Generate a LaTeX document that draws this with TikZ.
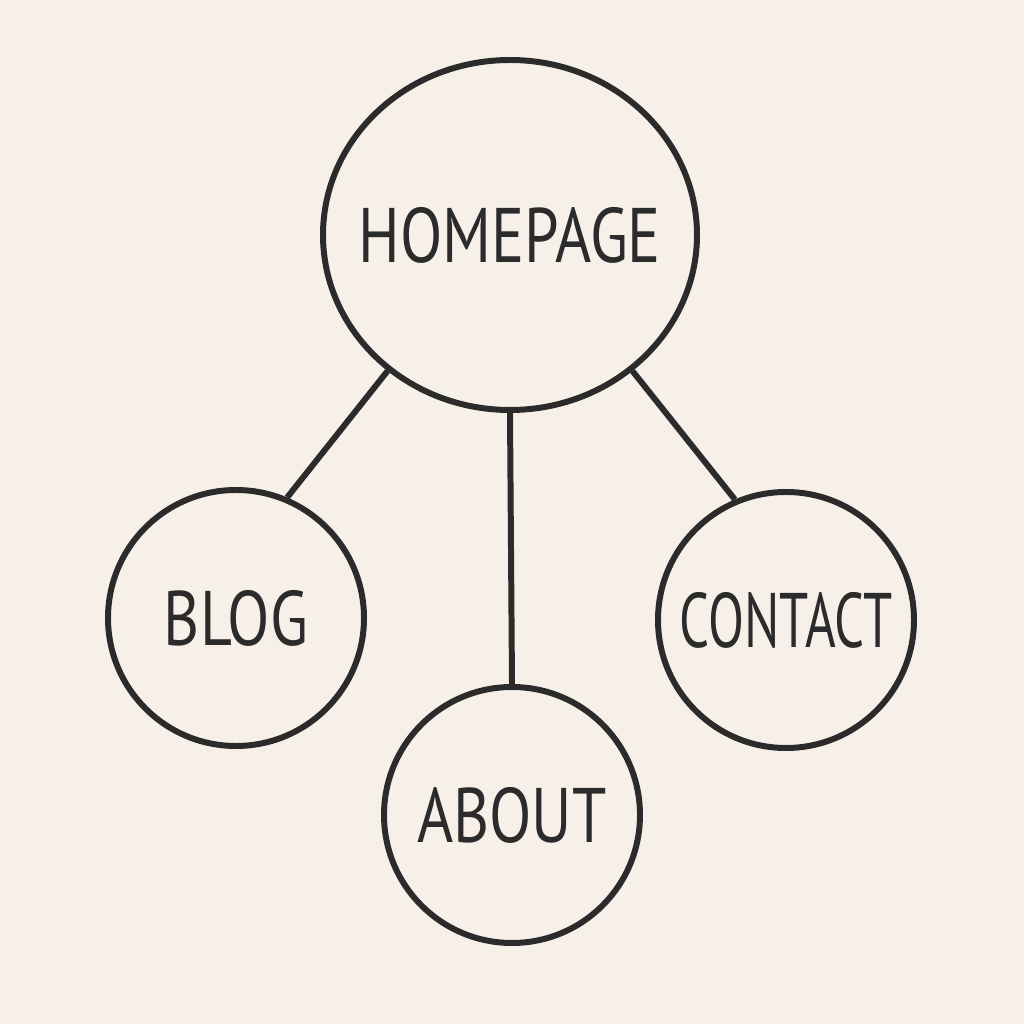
\documentclass[tikz,border=0pt]{standalone}
\usepackage{fontspec}
\usetikzlibrary{shapes.geometric}
\newfontfamily\handfont[FakeStretch=0.8]{PT Sans}
\newfontfamily\narrowhand[FakeStretch=0.68]{PT Sans}
\definecolor{paper}{HTML}{F6F0E8}
\definecolor{ink}{HTML}{2B2B2B}
\begin{document}
\begin{tikzpicture}
    [page/.style={shape=circle,draw=ink,line width=1.7pt,text=ink,
      font=\handfont\fontsize{22}{24}\selectfont,minimum size=2.56cm,inner sep=0pt},
     link/.style={draw=ink,line width=1.7pt}]
    \fill [paper] (0,0) rectangle (10.24,10.24);
    \node [page,shape=ellipse,minimum width=3.74cm,minimum height=3.5cm,
      inner xsep=-0.2cm] (home) at (5.10, 7.89) {HOMEPAGE};
    \node [page] (blog) at (2.36, 4.06) {BLOG};
    \node [page] (about) at (5.12, 2.09) {ABOUT};
    \node [page,font=\narrowhand\fontsize{22}{24}\selectfont] (contact)
      at (7.86, 4.04) {CONTACT};
    \draw [link] (home.228) -- (blog.67);
    \draw [link] (home.270) -- (about.90);
    \draw [link] (home.312) -- (contact.113);
  \end{tikzpicture}
\end{document}
